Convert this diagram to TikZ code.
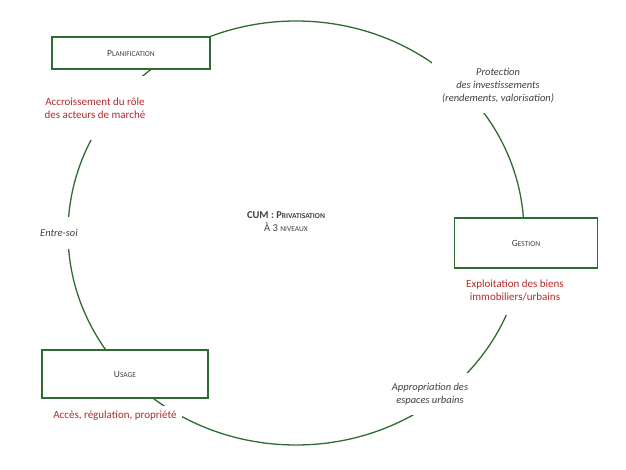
\documentclass[tikz,border=0pt]{standalone}
\usepackage{fontspec}
\setmainfont{Carlito}
\definecolor{cum_green}{HTML}{2E6B30}
\definecolor{cum_red}{HTML}{B22A2A}
\definecolor{cum_grey}{HTML}{404040}
% fake small caps: first letter, then the rest smaller
\newcommand{\fakesc}[2]{#1{\fontsize{7.5}{9}\selectfont#2}}
\tikzset{
  level/.style={draw=cum_green, line width=1.6pt, fill=white, minimum width=#1, minimum height=32pt, font=\fontsize{9.5}{11}\selectfont, text=cum_grey},
  effect/.style={text=cum_red, fill=white, align=center, font=\fontsize{11}{13}\selectfont, inner xsep=5pt, inner ysep=14pt},
  link/.style={text=cum_grey, fill=white, align=center, font=\fontsize{10.5}{13}\selectfont\itshape, inner xsep=10pt, inner ysep=10pt}
}
\begin{document}
\begin{tikzpicture}[x=1pt, y=-1pt]
  \useasboundingbox (0,0) rectangle (626,470);
  \draw[cum_green, line width=1.3pt] (296,233) ellipse (228pt and 212pt);

  \node[effect, inner ysep=22pt] (accr) at (95,108) {Accroissement du rôle\\des acteurs de marché};
  \node[effect] (expl) at (515,290) {Exploitation des biens\\immobiliers/urbains};
  \node[effect, anchor=north, inner ysep=5pt] (acces) at (115,406) {Accès, régulation, propriété};

  \node[level=158pt, minimum height=32pt] (plan) at (131,53) {\fakesc{P}{LANIFICATION}};
  \node[level=143pt, minimum height=50pt] (gest) at (526,243) {\fakesc{G}{ESTION}};
  \node[level=166pt, minimum height=48pt] (usage) at (125,374) {\fakesc{U}{SAGE}};

  \node[link] (prot) at (498,86) {Protection\\des investissements\\(rendements, valorisation)};
  \node[link] (appr) at (430,394) {Appropriation des\\espaces urbains};
  \node[link, inner ysep=12pt] (soi) at (59,233) {Entre-soi};

  \node[text=cum_grey, align=center, font=\fontsize{10.5}{13}\selectfont] (cum) at (286,222)
    {\textbf{CUM : \fakesc{P}{RIVATISATION}}\\\fakesc{À 3 }{NIVEAUX}};
\end{tikzpicture}
\end{document}
